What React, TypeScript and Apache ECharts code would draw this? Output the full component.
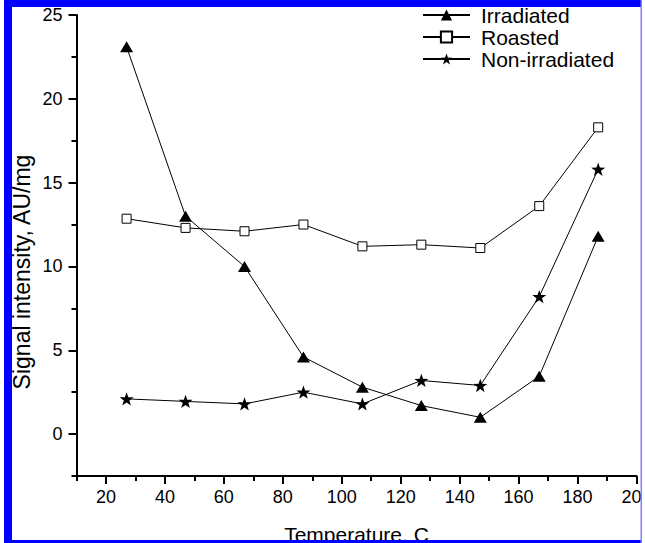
import React, { useEffect, useRef } from "react";
import * as echarts from "echarts";

const temperatures = [27, 47, 67, 87, 107, 127, 147, 167, 187];
const irradiated = [23.1, 13.0, 10.0, 4.6, 2.8, 1.7, 1.0, 3.45, 11.8];
const roasted = [12.85, 12.3, 12.1, 12.5, 11.2, 11.3, 11.1, 13.6, 18.3];
const nonIrradiated = [2.1, 1.95, 1.8, 2.5, 1.8, 3.2, 2.9, 8.2, 15.8];

const xMajorTicks = [20, 40, 60, 80, 100, 120, 140, 160, 180, 200];
const xMinorTicks = [10, 30, 50, 70, 90, 110, 130, 150, 170, 190];
const yMajorTicks = [0, 5, 10, 15, 20, 25];
const yMinorTicks = [-2.5, 2.5, 7.5, 12.5, 17.5, 22.5];

const FONT = "Liberation Sans, Arial, Helvetica, sans-serif";

const starPath = (() => {
  const pts: string[] = [];
  for (let i = 0; i < 10; i++) {
    const r = i % 2 === 0 ? 10 : 4;
    const a = (Math.PI / 5) * i - Math.PI / 2;
    pts.push(`${(10 + r * Math.cos(a)).toFixed(3)} ${(10 + r * Math.sin(a)).toFixed(3)}`);
  }
  return "path://M" + pts.join(" L") + " Z";
})();

const pairs = (ys: number[]) => temperatures.map((t, i) => [t, ys[i]]);

export default function App() {
  const ref = useRef<HTMLDivElement>(null);
  useEffect(() => {
    if (!ref.current) return;
    const chart = echarts.init(ref.current, null, { renderer: "svg" });
    const axisColor = "#000";
    const lineStyle = { color: "#000", width: 1 };
    const option: any = {
      animation: false,
      backgroundColor: "#fff",
      grid: { left: 76.5, right: 8.5, top: 15, bottom: 67, outerBoundsMode: "none" },
      xAxis: [
        {
          type: "value",
          min: 10,
          max: 200,
          position: "bottom",
          axisLine: { show: true, onZero: false, lineStyle: { color: axisColor, width: 2 } },
          axisTick: { show: true, customValues: xMajorTicks, length: 8, lineStyle: { color: axisColor, width: 2 } },
          axisLabel: { customValues: xMajorTicks, fontSize: 18, color: "#000", margin: 12, fontFamily: FONT },
          splitLine: { show: false },
          name: "Temperature, C",
          nameLocation: "middle",
          nameGap: 48,
          nameTextStyle: { fontSize: 21, color: "#000", fontFamily: FONT },
        },
        {
          type: "value",
          min: 10,
          max: 200,
          position: "bottom",
          axisLine: { show: false, onZero: false },
          axisTick: { show: true, customValues: xMinorTicks, length: 5, lineStyle: { color: axisColor, width: 2 } },
          axisLabel: { show: false },
          splitLine: { show: false },
        },
      ],
      yAxis: [
        {
          type: "value",
          min: -2.5,
          max: 25,
          position: "left",
          axisLine: { show: true, onZero: false, lineStyle: { color: axisColor, width: 2 } },
          axisTick: { show: true, customValues: yMajorTicks, length: 8, lineStyle: { color: axisColor, width: 2 } },
          axisLabel: { customValues: yMajorTicks, fontSize: 18, color: "#000", margin: 14, fontFamily: FONT },
          splitLine: { show: false },
        },
        {
          type: "value",
          min: -2.5,
          max: 25,
          position: "left",
          axisLine: { show: false, onZero: false },
          axisTick: { show: true, customValues: yMinorTicks, length: 5, lineStyle: { color: axisColor, width: 2 } },
          axisLabel: { show: false },
          splitLine: { show: false },
        },
      ],
      legend: {
        orient: "vertical",
        left: 422,
        top: 4,
        padding: 0,
        itemWidth: 47,
        itemHeight: 14,
        itemGap: 0,
        textStyle: { fontSize: 21, lineHeight: 22, color: "#000", fontFamily: FONT, padding: [0, 0, 0, 6] },
        data: ["Irradiated", "Roasted", "Non-irradiated"],
      },
      series: [
        {
          type: "line",
          name: "Irradiated",
          data: pairs(irradiated),
          symbol: "triangle",
          symbolSize: [13, 11],
          lineStyle,
          itemStyle: { color: "#000" },
        },
        {
          type: "line",
          name: "Roasted",
          data: pairs(roasted),
          symbol: "rect",
          symbolSize: 9,
          lineStyle,
          itemStyle: { color: "#fff", borderColor: "#000", borderWidth: 1 },
        },
        {
          type: "line",
          name: "Non-irradiated",
          data: pairs(nonIrradiated),
          symbol: starPath,
          symbolSize: 14,
          symbolKeepAspect: true,
          lineStyle,
          itemStyle: { color: "#000" },
        },
      ],
      graphic: [
        {
          type: "text",
          x: 22,
          y: 272,
          rotation: Math.PI / 2,
          style: {
            text: "Signal intensity, AU/mg",
            fontSize: 23,
            fontFamily: FONT,
            fill: "#000",
            align: "center",
            verticalAlign: "middle",
          },
        },
        { type: "rect", z: 100, shape: { x: 4, y: 0, width: 8, height: 543 }, style: { fill: "#0000ff" } },
        { type: "rect", z: 100, shape: { x: 4, y: 0, width: 638, height: 7 }, style: { fill: "#0000ff" } },
        { type: "rect", z: 100, shape: { x: 642, y: 0, width: 3, height: 543 }, style: { fill: "#ffffff" } },
        { type: "rect", z: 101, shape: { x: 640.5, y: 0, width: 1.5, height: 543 }, style: { fill: "#8080ff" } },
        { type: "rect", z: 100, shape: { x: 4, y: 540, width: 638, height: 3 }, style: { fill: "#0000ff" } },
      ],
    };
    chart.setOption(option);
    return () => chart.dispose();
  }, []);
  return <div ref={ref} style={{ position: "fixed", left: 0, top: 0, width: 645, height: 543 }} />;
}
